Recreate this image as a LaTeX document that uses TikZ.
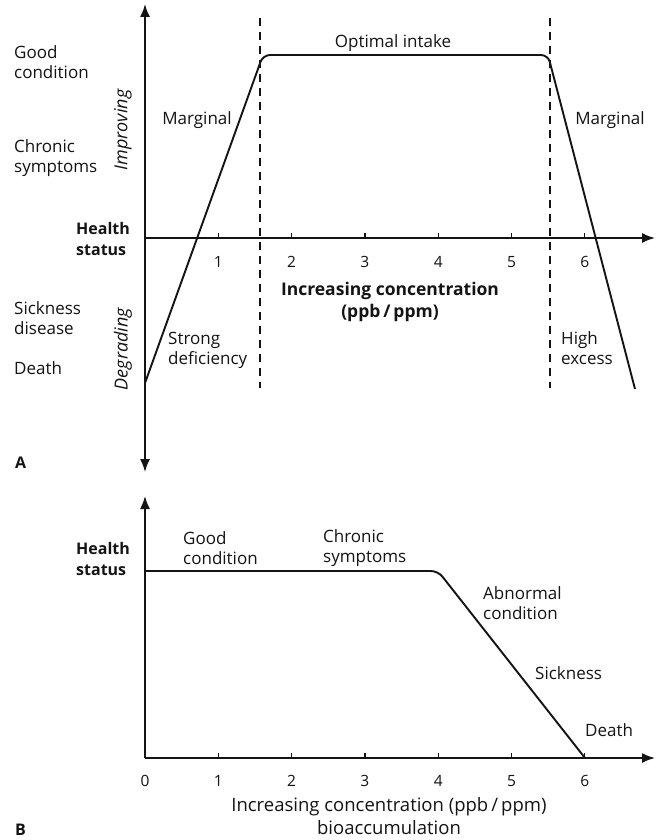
\documentclass[tikz,border=0pt]{standalone}
\usepackage{fontspec}
\setmainfont{Open Sans}
\usetikzlibrary{arrows.meta}
\definecolor{ink}{gray}{0.08}
\tikzset{
  lbl/.style={font=\fontsize{17}{20}\selectfont, text=ink, inner sep=0pt, align=left, anchor=west},
  lblc/.style={font=\fontsize{17}{20}\selectfont, text=ink, inner sep=0pt, align=center},
  bld/.style={font=\fontsize{16}{21}\selectfont\bfseries, text=ink, inner sep=0pt, align=left, anchor=west},
  bldc/.style={font=\fontsize{17.5}{22}\selectfont\bfseries, text=ink, inner sep=0pt, align=center},
  bigc/.style={font=\fontsize{18.5}{23}\selectfont, text=ink, inner sep=0pt, align=center},
  ital/.style={font=\fontsize{18}{20}\selectfont\itshape, text=ink, inner sep=0pt, rotate=90},
  tick/.style={font=\fontsize{15.5}{17}\selectfont, text=ink, inner sep=0pt},
  axis/.style={draw=ink, line width=1.7pt},
  curve/.style={draw=ink, line width=1.9pt, rounded corners=7pt},
  guide/.style={draw=ink, line width=1.5pt, dash pattern=on 8pt off 6pt},
  tip/.style={-{Latex[length=13pt,width=10pt]}},
  twotip/.style={{Latex[length=13pt,width=10pt]}-{Latex[length=13pt,width=10pt]}}
}
\begin{document}
\begin{tikzpicture}[x=1pt,y=-1pt]
\path[use as bounding box, fill=white] (0,0) rectangle (656,840);

% ---------- Panel A ----------
\coordinate (Aytop) at (145,4);
\coordinate (Aybot) at (145,472);
\coordinate (Aorig) at (145,238);
\coordinate (Axend) at (655,238);
\draw[axis, twotip] (Aybot) -- (Aytop);
\draw[axis, tip] (Aorig) -- (Axend);
\foreach \k in {1,...,6}{
  \draw[ink, line width=1.2pt] ({145+73.3*\k},238) -- ({145+73.3*\k},233);
  \node[tick] (Atick\k) at ({145+73.3*\k},262) {\k};
}
\coordinate (Ad1t) at (260,18);
\coordinate (Ad1b) at (260,388);
\coordinate (Ad2t) at (550,18);
\coordinate (Ad2b) at (550,388);
\draw[guide] (Ad1t) -- (Ad1b);
\draw[guide] (Ad2t) -- (Ad2b);

\coordinate (Ac0) at (145,383);
\coordinate (Ac1) at (263,55);
\coordinate (Ac2) at (548,55);
\coordinate (Ac3) at (635,389);
\draw[curve] (Ac0) -- (Ac1) -- (Ac2) -- (Ac3);

\node[lbl] (Agood) at (14,62) {Good\\condition};
\node[lbl] (Achron) at (14,158) {Chronic\\symptoms};
\node[bld] (Ahealth) at (76,239) {Health\\status};
\node[lbl] (Asick) at (14,318) {Sickness\\disease};
\node[lbl] (Adeath) at (14,368) {Death};
\node[ital] (Aimp) at (123,130) {Improving};
\node[ital] (Adeg) at (123,349) {Degrading};
\node[lblc] (Amarg1) at (197,120) {Marginal};
\node[lblc] (Aopt) at (393,43) {Optimal intake};
\node[lblc] (Amarg2) at (610,120) {Marginal};
\node[lbl] (Astrong) at (168,350) {Strong\\deficiency};
\node[lbl] (Ahigh) at (561,348) {High\\excess};
\node[bldc] (Ainc) at (390,302) {Increasing concentration\\(ppb\,/\,ppm)};
\node[bld] (Alab) at (15,463) {A};

% ---------- Panel B ----------
\coordinate (Bytop) at (145,496);
\coordinate (Borig) at (145,758);
\coordinate (Bxend) at (655,758);
\draw[axis, tip] (Borig) -- (Bytop);
\draw[axis, tip] (Borig) -- (Bxend);
\foreach \k in {1,...,6}{
  \draw[ink, line width=1.2pt] ({145+73.3*\k},758) -- ({145+73.3*\k},753);
}
\foreach \k in {0,...,6}{
  \node[tick] (Btick\k) at ({145+73.3*\k},781) {\k};
}
\coordinate (Bc0) at (145,571);
\coordinate (Bc1) at (438,571);
\coordinate (Bc2) at (585,758);
\draw[curve] (Bc0) -- (Bc1) -- (Bc2);

\node[bld] (Bhealth) at (76,559) {Health\\status};
\node[lbl] (Bgood) at (183,548) {Good\\condition};
\node[lbl] (Bchron) at (323,548) {Chronic\\symptoms};
\node[lbl] (Babn) at (483,603) {Abnormal\\condition};
\node[lbl] (Bsick) at (535,673) {Sickness};
\node[lbl] (Bdeath) at (585,730) {Death};
\node[bigc] (Binc) at (389,816) {Increasing concentration (ppb\,/\,ppm)\\bioaccumulation};
\node[bld] (Blab) at (15,830) {B};
\end{tikzpicture}
\end{document}
